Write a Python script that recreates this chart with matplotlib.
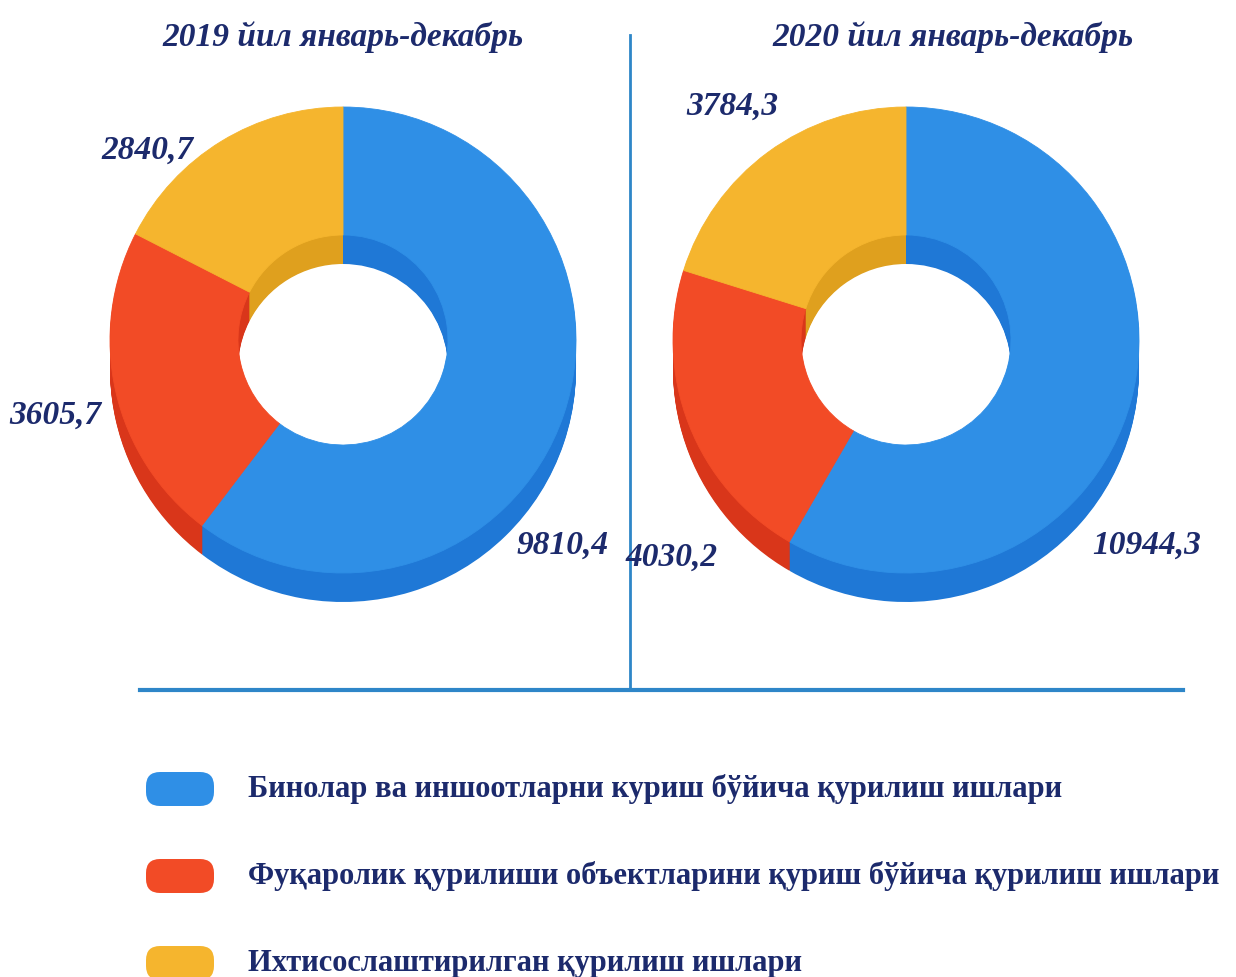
import matplotlib.pyplot as plt
from matplotlib.patches import FancyBboxPatch

# data
titles = ['2019 йил январь-декабрь', '2020 йил январь-декабрь']
categories = ['Бинолар ва иншоотларни куриш бўйича қурилиш ишлари',
              'Фуқаролик қурилиши объектларини қуриш бўйича қурилиш ишлари',
              'Ихтисослаштирилган қурилиш ишлари']
values_2019 = [9810.4, 3605.7, 2840.7]
values_2020 = [10944.3, 4030.2, 3784.3]

top_colors = ['#2F8FE6', '#F24B26', '#F5B52E']
side_colors = ['#1F78D6', '#D9361A', '#DFA01E']
navy = '#1C2A6C'
line_col = '#2E86C8'

W, H = 1236, 977
fig = plt.figure(figsize=(W / 100, H / 100), dpi=100)
ax = fig.add_axes([0, 0, 1, 1])

R, RING, DEPTH = 233, 128, 29


def donut(values, cx, cy):
    # the side wall: stacked darker copies pushed down
    for d in range(DEPTH, 0, -1):
        ax.pie(values, colors=side_colors, startangle=90, counterclock=False,
               radius=R, center=(cx, H - cy - d),
               wedgeprops=dict(width=RING, linewidth=0.6, edgecolor='none'))
    w, _ = ax.pie(values, colors=top_colors, startangle=90, counterclock=False,
                  radius=R, center=(cx, H - cy),
                  wedgeprops=dict(width=RING, linewidth=0))
    for p, c in zip(w, top_colors):
        p.set_edgecolor(c)
        p.set_linewidth(0.6)


donut(values_2019, 343, 340)
donut(values_2020, 906, 340)


def fmt(v):
    return f'{v:.1f}'.replace('.', ',')


label_pos_2019 = [(563, 545), (55, 415), (147, 150)]
label_pos_2020 = [(1147, 545), (672, 557), (732, 106)]
for vals, poss in [(values_2019, label_pos_2019), (values_2020, label_pos_2020)]:
    for v, (x, y) in zip(vals, poss):
        ax.text(x, H - y, fmt(v), ha='center', va='center', fontsize=24,
                family='Liberation Serif', weight='bold', style='italic', color=navy)

for t, x in zip(titles, [343, 953]):
    ax.text(x, H - 37, t, ha='center', va='center', fontsize=24,
            family='Liberation Serif', weight='bold', style='italic', color=navy)

# separator lines
ax.plot([630, 630], [H - 35, H - 690], color=line_col, lw=2)
ax.plot([140, 1183], [H - 690, H - 690], color=line_col, lw=3)

# legend
for i, (lab, c) in enumerate(zip(categories, top_colors)):
    yc = 789 + i * 87
    ax.add_patch(FancyBboxPatch((160, H - yc - 3), 40, 6,
                                boxstyle='round,pad=14', fc=c, ec='none'))
    ax.text(248, H - yc, lab, ha='left', va='center', fontsize=22,
            family='Liberation Serif', weight='bold', color=navy)

ax.set_xlim(0, W)
ax.set_ylim(0, H)
ax.set_aspect('auto')
ax.axis('off')

fig.savefig('out.png', dpi=100, facecolor='white')
